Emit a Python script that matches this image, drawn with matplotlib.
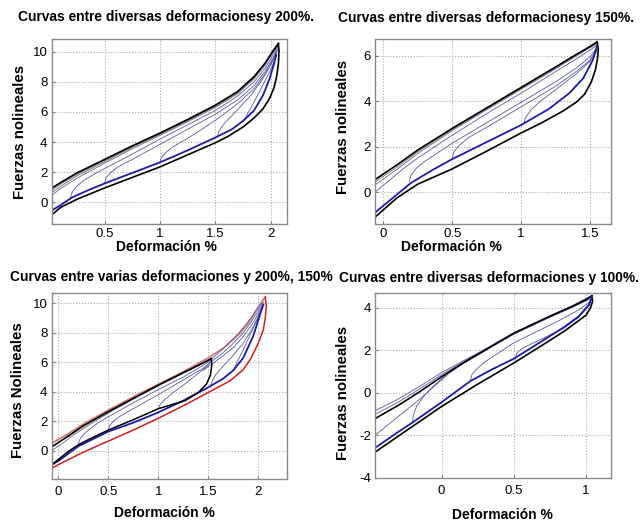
import matplotlib.pyplot as plt
import numpy as np

plt.rcParams['font.family'] = ['Liberation Sans', 'DejaVu Sans']

# ======================
# Panel 1 : ciclos hasta 200%
# ======================
p1_outer_up = [(0.02, 0.93), (0.1, 1.3), (0.25, 1.95), (0.5, 2.85), (0.75, 3.75), (1.0, 4.6), (1.25, 5.5),
               (1.5, 6.45), (1.7, 7.35), (1.85, 8.35), (1.95, 9.25), (2.02, 10.05), (2.07, 10.55)]
p1_outer_down = [(2.07, 10.55), (2.075, 10.0), (2.07, 9.2), (2.055, 8.4), (2.03, 7.6), (1.99, 6.9), (1.93, 6.2),
                 (1.85, 5.6), (1.75, 5.0), (1.62, 4.4), (1.5, 3.95), (1.25, 3.15), (1.0, 2.35), (0.75, 1.65),
                 (0.5, 0.95), (0.25, 0.2), (0.1, -0.35), (0.02, -0.84)]
p1_blue_down = [(0.02, -0.55), (0.1, -0.2), (0.2, 0.3), (0.35, 0.8), (0.5, 1.25), (0.75, 1.95), (1.0, 2.65),
                (1.25, 3.45), (1.5, 4.3), (1.65, 4.85), (1.75, 5.4), (1.85, 6.1), (1.93, 7.1), (1.99, 8.2),
                (2.03, 9.2), (2.05, 9.8)]
p1_reload = [
    [(0.19, 0.3), (0.2, 0.6), (0.24, 1.0), (0.3, 1.4), (0.4, 1.85), (0.5, 2.25), (0.75, 3.2), (1.0, 4.2),
     (1.25, 5.15), (1.5, 6.1), (1.7, 7.05), (1.85, 8.0), (1.95, 8.9), (2.03, 9.9), (2.06, 10.3)],
    [(0.5, 1.3), (0.51, 1.6), (0.55, 1.95), (0.62, 2.35), (0.75, 2.85), (1.0, 3.85), (1.25, 4.85), (1.5, 5.85),
     (1.7, 6.8), (1.85, 7.75), (1.95, 8.7), (2.03, 9.7), (2.06, 10.2)],
    [(1.0, 2.65), (1.01, 2.95), (1.05, 3.3), (1.12, 3.7), (1.25, 4.25), (1.4, 4.95), (1.55, 5.7), (1.7, 6.55),
     (1.85, 7.55), (1.95, 8.55), (2.03, 9.6), (2.06, 10.1)],
    [(1.52, 4.35), (1.53, 4.7), (1.57, 5.15), (1.63, 5.6), (1.72, 6.3), (1.82, 7.1), (1.92, 8.1), (2.0, 9.1),
     (2.05, 9.9)],
    [(1.76, 5.45), (1.8, 6.0), (1.86, 6.8), (1.93, 7.8), (2.0, 8.8), (2.05, 9.7)],
]
p1_upper = [
    [(0.02, 0.45), (0.1, 0.9), (0.25, 1.6), (0.5, 2.6), (0.75, 3.55), (1.0, 4.45), (1.25, 5.35), (1.5, 6.3),
     (1.7, 7.2), (1.85, 8.2), (1.95, 9.1), (2.02, 9.95), (2.07, 10.45)],
    [(0.02, 0.62), (0.1, 1.05), (0.25, 1.75), (0.5, 2.7), (0.75, 3.65), (1.0, 4.52), (1.25, 5.42), (1.5, 6.38),
     (1.7, 7.28), (1.85, 8.28), (1.95, 9.18), (2.02, 10.0), (2.07, 10.5)],
    [(0.02, 0.78), (0.1, 1.2), (0.25, 1.85), (0.5, 2.78), (0.75, 3.7), (1.0, 4.56), (1.25, 5.46), (1.5, 6.42),
     (1.7, 7.32), (1.85, 8.32), (1.95, 9.22), (2.02, 10.02), (2.07, 10.52)],
]

# ======================
# Panel 2 : ciclos hasta 150%
# ======================
p2_outer_up = [(-0.06, 0.55), (0.1, 1.2), (0.25, 1.85), (0.5, 2.8), (0.75, 3.7), (1.0, 4.6), (1.25, 5.5),
               (1.4, 6.05), (1.5, 6.4), (1.55, 6.6)]
p2_outer_down = [(1.55, 6.6), (1.56, 6.3), (1.555, 5.9), (1.54, 5.4), (1.51, 4.85), (1.46, 4.3), (1.4, 3.95),
                 (1.3, 3.55), (1.15, 3.05), (1.0, 2.6), (0.75, 1.8), (0.5, 1.02), (0.25, 0.35), (0.1, -0.25),
                 (-0.06, -1.1)]
p2_blue_down = [(-0.06, -0.9), (0.1, -0.1), (0.2, 0.4), (0.35, 0.95), (0.5, 1.45), (0.75, 2.2), (1.0, 2.95),
                (1.2, 3.65), (1.35, 4.35), (1.45, 5.0), (1.52, 5.8), (1.55, 6.4)]
p2_reload = [
    [(0.19, 0.47), (0.2, 0.75), (0.24, 1.05), (0.3, 1.35), (0.4, 1.75), (0.5, 2.15), (0.75, 3.05), (1.0, 3.95),
     (1.25, 4.85), (1.4, 5.45), (1.5, 5.95), (1.55, 6.35)],
    [(0.5, 1.45), (0.51, 1.75), (0.55, 2.05), (0.62, 2.4), (0.75, 2.85), (1.0, 3.75), (1.25, 4.65), (1.4, 5.3),
     (1.5, 5.8), (1.55, 6.3)],
    [(1.02, 3.0), (1.03, 3.25), (1.07, 3.6), (1.14, 4.0), (1.25, 4.5), (1.4, 5.2), (1.5, 5.75), (1.55, 6.2)],
    [(-0.06, 0.0), (0.05, 0.55), (0.15, 1.05), (0.25, 1.5), (0.5, 2.5), (0.75, 3.45), (1.0, 4.35), (1.25, 5.3),
     (1.4, 5.85), (1.55, 6.45)],
]
p2_upper = [
    [(-0.06, 0.32), (0.1, 1.0), (0.25, 1.7), (0.5, 2.7), (0.75, 3.62), (1.0, 4.52), (1.25, 5.42), (1.4, 5.98),
     (1.5, 6.35), (1.56, 6.55)],
    [(-0.06, 0.45), (0.1, 1.1), (0.25, 1.78), (0.5, 2.75), (0.75, 3.66), (1.0, 4.56), (1.25, 5.46), (1.4, 6.02),
     (1.5, 6.38), (1.56, 6.6)],
]

# ======================
# Panel 3 : 200% (rojo) y 150% (negro)
# ======================
p3_red_down = [(2.07, 10.4), (2.08, 9.8), (2.07, 9.0), (2.05, 8.2), (2.0, 7.3), (1.93, 6.3), (1.85, 5.5),
               (1.72, 4.75), (1.5, 3.95), (1.25, 3.05), (1.0, 2.2), (0.75, 1.4), (0.5, 0.65), (0.25, -0.1),
               (0.0, -0.95), (-0.066, -1.2)]
p3_red_up = [(-0.066, 0.5), (0.1, 1.15), (0.25, 1.8), (0.5, 2.75), (0.75, 3.65), (1.0, 4.5), (1.25, 5.35),
             (1.5, 6.3), (1.65, 6.95), (1.8, 7.85), (1.9, 8.65), (2.0, 9.75), (2.07, 10.45)]
p3_black_up = [(-0.066, 0.25), (0.1, 1.0), (0.25, 1.7), (0.5, 2.65), (0.75, 3.55), (1.0, 4.45), (1.25, 5.3),
               (1.4, 5.8), (1.53, 6.25)]
p3_black_down = [(1.53, 6.25), (1.535, 5.8), (1.52, 5.1), (1.48, 4.5), (1.4, 3.95), (1.27, 3.4), (1.0, 2.85),
                 (0.75, 2.1), (0.5, 1.4), (0.3, 0.75), (0.2, 0.4), (0.1, -0.05), (0.0, -0.6), (-0.066, -0.95)]
p3_blue_down = [(-0.066, -0.95), (0.0, -0.7), (0.2, 0.3), (0.5, 1.3), (0.75, 1.9), (1.0, 2.6), (1.25, 3.4),
                (1.5, 4.3), (1.65, 4.9), (1.75, 5.45), (1.85, 6.3), (1.95, 7.8), (2.02, 9.3), (2.05, 9.9)]
p3_reload = [
    [(0.2, 0.35), (0.21, 0.7), (0.25, 1.1), (0.32, 1.5), (0.4, 1.9), (0.5, 2.3), (0.75, 3.25), (1.0, 4.15),
     (1.25, 5.0), (1.45, 5.8), (1.53, 6.15)],
    [(0.5, 1.35), (0.51, 1.65), (0.55, 2.0), (0.62, 2.35), (0.75, 2.85), (1.0, 3.8), (1.25, 4.8), (1.45, 5.6),
     (1.53, 6.05)],
    [(1.0, 2.85), (1.02, 3.15), (1.07, 3.5), (1.15, 3.95), (1.27, 4.55), (1.4, 5.25), (1.5, 5.8), (1.53, 6.1)],
    [(1.52, 4.35), (1.54, 4.75), (1.58, 5.2), (1.65, 5.75), (1.74, 6.4), (1.85, 7.3), (1.95, 8.4), (2.02, 9.4),
     (2.05, 9.9)],
    [(1.75, 5.45), (1.79, 6.05), (1.85, 6.85), (1.92, 7.9), (1.99, 8.9), (2.04, 9.7)],
    [(1.53, 6.2), (1.62, 6.75), (1.72, 7.4), (1.82, 8.1), (1.92, 8.95), (2.0, 9.7), (2.05, 10.1)],
    [(1.53, 6.05), (1.63, 6.55), (1.73, 7.15), (1.83, 7.85), (1.93, 8.75), (2.0, 9.5), (2.05, 10.0)],
    [(1.45, 5.45), (1.55, 5.95), (1.65, 6.45), (1.75, 7.0), (1.85, 7.75), (1.95, 8.7), (2.02, 9.55), (2.05, 9.95)],
]
p3_upper = [
    [(-0.066, 0.0), (0.05, 0.55), (0.15, 1.05), (0.25, 1.5), (0.5, 2.55), (0.75, 3.5), (1.0, 4.4), (1.25, 5.25),
     (1.53, 6.2)],
    [(-0.066, 0.3), (0.1, 0.95), (0.25, 1.62), (0.5, 2.6), (0.75, 3.52), (1.0, 4.42), (1.25, 5.27), (1.53, 6.22)],
]

# ======================
# Panel 4 : ciclos hasta 100%
# ======================
p4_outer_up = [(-0.46, -1.22), (-0.3, -0.6), (-0.15, 0.05), (0.0, 0.75), (0.15, 1.4), (0.3, 2.0), (0.5, 2.8),
               (0.75, 3.6), (0.9, 4.05), (1.0, 4.38), (1.04, 4.56)]
p4_outer_down = [(1.04, 4.56), (1.045, 4.3), (1.03, 4.0), (1.0, 3.65), (0.95, 3.4), (0.85, 2.9), (0.7, 2.25),
                 (0.5, 1.4), (0.25, 0.4), (0.0, -0.65), (-0.15, -1.35), (-0.3, -2.05), (-0.46, -2.8)]
p4_blue_down = [(-0.46, -2.6), (-0.3, -1.85), (-0.2, -1.4), (0.0, -0.45), (0.2, 0.55), (0.35, 1.1), (0.5, 1.6),
                (0.7, 2.45), (0.85, 3.1), (0.95, 3.6), (1.02, 4.15), (1.04, 4.5)]
p4_reload = [
    [(-0.2, -1.4), (-0.195, -1.05), (-0.17, -0.6), (-0.12, -0.15), (-0.05, 0.35), (0.05, 0.95), (0.15, 1.4),
     (0.3, 1.98), (0.5, 2.75), (0.75, 3.55), (0.9, 4.0), (1.04, 4.45)],
    [(0.2, 0.55), (0.21, 0.85), (0.24, 1.1), (0.3, 1.45), (0.4, 1.9), (0.5, 2.35), (0.65, 2.85), (0.8, 3.35),
     (0.95, 3.9), (1.04, 4.35)],
    [(0.51, 1.6), (0.52, 1.85), (0.55, 2.05), (0.62, 2.3), (0.7, 2.55), (0.85, 3.05), (0.95, 3.55), (1.04, 4.25)],
    [(-0.46, -2.0), (-0.35, -1.4), (-0.25, -0.85), (-0.15, -0.3), (-0.05, 0.3), (0.05, 0.9), (0.15, 1.38),
     (0.3, 1.97)],
]
p4_upper = [
    [(-0.46, -0.85), (-0.3, -0.3), (-0.15, 0.3), (0.0, 0.95), (0.15, 1.5), (0.3, 2.05), (0.5, 2.82), (0.75, 3.62),
     (0.9, 4.08), (1.04, 4.58)],
    [(-0.46, -1.02), (-0.3, -0.45), (-0.15, 0.18), (0.0, 0.85), (0.15, 1.45), (0.3, 2.02), (0.5, 2.8), (0.75, 3.6),
     (0.9, 4.06), (1.04, 4.57)],
]

titles = ["Curvas entre diversas deformacionesy 200%.",
          "Curvas entre diversas deformacionesy 150%.",
          "Curvas entre varias deformaciones y 200%, 150%",
          "Curvas entre diversas deformaciones y 100%."]
ylabels = ["Fuerzas nolineales", "Fuerzas nolineales", "Fuerzas Nolineales", "Fuerzas nolineales"]
xlabel = "Deformación %"

xticks = [[0.5, 1, 1.5, 2], [0, 0.5, 1, 1.5], [0, 0.5, 1, 1.5, 2], [0, 0.5, 1]]
yticks = [[0, 2, 4, 6, 8, 10], [0, 2, 4, 6], [0, 2, 4, 6, 8, 10], [-4, -2, 0, 2, 4]]
xlims = [(0.02, 2.145), (-0.06, 1.65), (-0.066, 2.29), (-0.46, 1.17)]
ylims = [(-1.45, 10.85), (-1.4, 6.73), (-1.92, 10.68), (-4.03, 4.68)]

# colores
C_BLACK = "#000000"
C_BLUE = "#1c1ca8"
C_THIN = "#5858a0"
C_GRAY = "#6a6a78"
C_RED = "#cc2020"
C_PINK = "#d87878"


def draw(ax, pts, **kw):
    a = np.array(pts)
    ax.plot(a[:, 0], a[:, 1], solid_joinstyle="round", **kw)


W, H = 643, 523
fig = plt.figure(figsize=(W / 100, H / 100), dpi=100)

# cajas de ejes en pixeles (izq, arriba, der, abajo)
boxes = [(51.7, 39, 286.7, 224), (375, 39, 610.7, 224), (51.7, 293.3, 287.3, 479), (375, 293.3, 610.7, 478.3)]
axes = []
for b in boxes:
    ax = fig.add_axes([b[0] / W, 1 - b[3] / H, (b[2] - b[0]) / W, (b[3] - b[1]) / H])
    axes.append(ax)

# --- panel 1
ax = axes[0]
for c in p1_upper:
    draw(ax, c, color=C_GRAY, lw=0.6)
for c in p1_reload:
    draw(ax, c, color=C_THIN, lw=0.6)
draw(ax, p1_outer_up, color=C_BLACK, lw=1.2)
draw(ax, p1_outer_down, color=C_BLACK, lw=1.2)
draw(ax, p1_blue_down, color=C_BLUE, lw=1.3)

# --- panel 2
ax = axes[1]
for c in p2_upper:
    draw(ax, c, color=C_GRAY, lw=0.6)
for c in p2_reload:
    draw(ax, c, color=C_THIN, lw=0.6)
draw(ax, p2_outer_up, color=C_BLACK, lw=1.2)
draw(ax, p2_outer_down, color=C_BLACK, lw=1.2)
draw(ax, p2_blue_down, color=C_BLUE, lw=1.3)

# --- panel 3
ax = axes[2]
draw(ax, p3_red_up, color=C_PINK, lw=1.3)
draw(ax, p3_red_down, color=C_RED, lw=1.1)
for c in p3_upper:
    draw(ax, c, color=C_GRAY, lw=0.6)
for c in p3_reload:
    draw(ax, c, color=C_THIN, lw=0.6)
draw(ax, p3_blue_down, color=C_BLUE, lw=1.3)
draw(ax, p3_black_up, color=C_BLACK, lw=1.1)
draw(ax, p3_black_down, color=C_BLACK, lw=1.1)

# --- panel 4
ax = axes[3]
for c in p4_upper:
    draw(ax, c, color=C_THIN, lw=0.6)
for c in p4_reload:
    draw(ax, c, color=C_THIN, lw=0.6)
draw(ax, p4_outer_up, color=C_BLACK, lw=1.2)
draw(ax, p4_outer_down, color=C_BLACK, lw=1.2)
draw(ax, p4_blue_down, color=C_BLUE, lw=1.3)

for i, ax in enumerate(axes):
    ax.set_xlim(*xlims[i])
    ax.set_ylim(*ylims[i])
    ax.set_xticks(xticks[i])
    ax.set_xticklabels([f"{v:g}" for v in xticks[i]])
    ax.set_yticks(yticks[i])
    ax.set_yticklabels([f"{v:g}" for v in yticks[i]])
    ax.grid(True, linestyle=":", color="#a8a8a8", linewidth=0.8)
    ax.tick_params(direction="in", length=2, color="#808080", labelsize=9.5, pad=3)
    for s in ax.spines.values():
        s.set_color("#8a8a8a")
        s.set_linewidth(1.0)
axes[2].tick_params(axis="x", pad=5)
axes[3].tick_params(axis="x", pad=5)

# textos (posiciones en pixeles)
title_pos = [(166, 17), (486, 18), (171, 277), (489, 278)]
ylabel_pos = [(20, 132), (343, 127), (18, 390), (343, 393)]
xlabel_pos = [(166, 247), (451, 247), (164, 513), (502, 515)]
for i in range(4):
    fig.text(title_pos[i][0] / W, 1 - title_pos[i][1] / H, titles[i], ha="center", va="center",
             fontsize=9.9, fontweight="bold")
    fig.text(ylabel_pos[i][0] / W, 1 - ylabel_pos[i][1] / H, ylabels[i], ha="center", va="center",
             rotation=90, fontsize=10.8, fontweight="bold")
    fig.text(xlabel_pos[i][0] / W, 1 - xlabel_pos[i][1] / H, xlabel, ha="center", va="center",
             fontsize=10, fontweight="bold")

fig.savefig("out.png", dpi=100)
